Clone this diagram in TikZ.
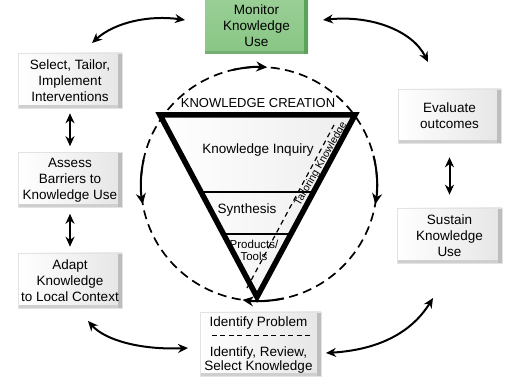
\documentclass[tikz,border=0pt]{standalone}
\usepackage{fontspec}
\setmainfont{Liberation Sans}
\usetikzlibrary{arrows.meta,calc}
\definecolor{mongreen}{RGB}{136,198,132}
\definecolor{mongreendark}{RGB}{92,162,90}
\newcommand\boxfs{\fontsize{13.5}{15.8}\selectfont}
\tikzset{
  bevelbox/.style={minimum width=104pt, minimum height=55pt, inner sep=1pt, align=center,
    font=\boxfs, left color=white, right color=gray!20, draw=gray!22, line width=0.6pt,
    path picture={
      \fill[gray!52] ([xshift=-4pt]path picture bounding box.north east) rectangle (path picture bounding box.south east);
      \fill[gray!38] (path picture bounding box.south west) rectangle ([yshift=3pt,xshift=-4pt]path picture bounding box.south east);}},
  greenbox/.style={minimum width=103pt, minimum height=57pt, inner sep=1pt, align=center,
    font=\boxfs, top color=mongreen!85!white, bottom color=mongreen, draw=none,
    path picture={
      \fill[mongreendark] ([xshift=-4pt]path picture bounding box.north east) rectangle (path picture bounding box.south east);
      \fill[mongreendark!85] (path picture bounding box.south west) rectangle ([yshift=3pt,xshift=-4pt]path picture bounding box.south east);}},
  dbl/.style={{Stealth[length=10pt,width=9pt]}-{Stealth[length=10pt,width=9pt]}, line width=2pt},
  cyc/.style={-{Stealth[length=11pt,width=10pt]}, line width=2pt},
  cycdash/.style={dash pattern=on 9pt off 5.5pt, line width=1.7pt},
  lbl/.style={inner sep=0pt, align=center, font=\boxfs},
}
\begin{document}
\begin{tikzpicture}[x=1pt,y=-1pt]
\useasboundingbox (0,0) rectangle (506,379);

% dashed cycle
\draw[cycdash] (259,184) ellipse [x radius=118, y radius=117];
\draw[cyc] (259,184) ++(-102.5:118 and 117) arc[start angle=-102.5, end angle=-86, x radius=118, y radius=117];
\draw[cyc] (259,184) ++(-14:118 and 117) arc[start angle=-14, end angle=10, x radius=118, y radius=117];
\draw[cyc] (259,184) ++(78:118 and 117) arc[start angle=78, end angle=98, x radius=118, y radius=117];
\draw[cyc] (259,184) ++(192:118 and 117) arc[start angle=192, end angle=170, x radius=118, y radius=117];

% knowledge creation funnel
\coordinate (tl) at (160,115);
\coordinate (tr) at (355,115);
\coordinate (tip) at (257,297);
\fill[left color=white, right color=gray!14] (tl) -- (tr) -- (tip) -- cycle;
\draw[line width=1.3pt] ($(tl)!0.423!(tip)$) -- ($(tr)!0.423!(tip)$);
\draw[line width=1.3pt] ($(tl)!0.654!(tip)$) -- ($(tr)!0.654!(tip)$);
\draw[dash pattern=on 5pt off 4pt, line width=1.2pt] (247,288) -- (334,125);
\draw[line width=5.5pt, line join=miter] (tl) -- (tr) -- (tip) -- cycle;

\node[lbl, font=\fontsize{13}{15}\selectfont] (kc) at (258,103) {KNOWLEDGE CREATION};
\node[lbl] (ki) at (258,150) {Knowledge Inquiry};
\node[lbl] (syn) at (247,210) {Synthesis};
\node[lbl, font=\fontsize{11.5}{12}\selectfont] (prod) at (254,250) {Products/\\Tools};
\node[lbl, font=\fontsize{10.5}{12}\selectfont, rotate=60] (tail) at (321,164) {Tailoring Knowledge};

% boxes
\node[greenbox] (mon) at (256.5,25.5) {Monitor\\Knowledge\\Use};
\node[bevelbox] (sel) at (70,80.5) {Select, Tailor,\\Implement\\Interventions};
\node[bevelbox] (ass) at (70,180) {Assess\\Barriers to\\Knowledge Use};
\node[bevelbox] (ada) at (70,280.5) {Adapt\\Knowledge\\to Local Context};
\node[bevelbox, minimum width=103pt, minimum height=54pt] (eva) at (449.5,116) {Evaluate\\outcomes};
\node[bevelbox, minimum width=105pt] (sus) at (449.5,235.5) {Sustain\\Knowledge\\Use};
\node[bevelbox, minimum width=121pt, minimum height=64pt] (ide) at (260.5,344) {};
\node[lbl] (idp) at (258.5,323) {Identify Problem};
\node[lbl, font=\fontsize{13.5}{14.5}\selectfont] (idr) at (258.5,360) {Identify, Review,\\Select Knowledge};
\draw[dashed, line width=0.9pt, dash pattern=on 5pt off 3.5pt] ([xshift=12pt,yshift=9pt]ide.west) -- ([xshift=-8pt,yshift=9pt]ide.east);

% vertical double arrows
\draw[dbl, shorten <=5pt, shorten >=6pt] (sel) -- (ass);
\draw[dbl, shorten <=6pt, shorten >=6pt] (ass) -- (ada);
\draw[dbl, shorten <=14pt, shorten >=13pt] (eva) -- (sus);

% curved double arrows
\coordinate (tlA) at (92,43);
\coordinate (tlB) at (185,20);
\coordinate (trA) at (323,20);
\coordinate (trB) at (428,62);
\coordinate (blA) at (88,321);
\coordinate (blB) at (188,348);
\coordinate (brA) at (326,353);
\coordinate (brB) at (433,298);
\draw[dbl] (tlA) .. controls (115,22) and (150,15) .. (tlB);
\draw[dbl] (trA) .. controls (370,15) and (412,30) .. (trB);
\draw[dbl] (blA) .. controls (105,340) and (140,350) .. (blB);
\draw[dbl] (brA) .. controls (375,350) and (410,335) .. (brB);
\end{tikzpicture}
\end{document}
